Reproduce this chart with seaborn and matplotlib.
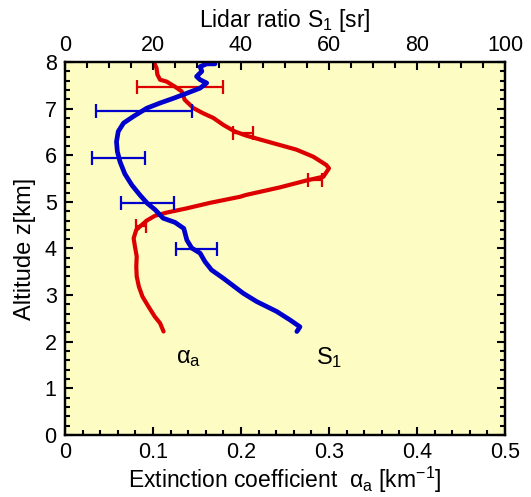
import matplotlib
matplotlib.use("Agg")
import matplotlib.pyplot as plt
from matplotlib.ticker import MultipleLocator
import seaborn as sns

# Extinction coefficient profile (bottom axis, km^-1)
ext_alt = [2.22, 2.40, 2.54, 2.75, 2.97, 3.18, 3.40, 3.61, 3.83, 4.04, 4.22, 4.40,
           4.47, 4.60, 4.70, 4.77, 4.86, 4.98, 5.11, 5.15, 5.31, 5.46, 5.54, 5.72,
           5.79, 5.97, 6.12, 6.22, 6.32, 6.42, 6.51, 6.65, 6.80, 6.90, 7.01, 7.19,
           7.37, 7.47, 7.58, 7.62, 7.73, 7.87, 7.95, 8.00]
ext_val = [0.112, 0.108, 0.102, 0.095, 0.088, 0.084, 0.0815, 0.081, 0.0815, 0.0795,
           0.078, 0.081, 0.085, 0.093, 0.102, 0.1155, 0.138, 0.165, 0.199, 0.206,
           0.244, 0.2746, 0.2936, 0.300, 0.297, 0.282, 0.263, 0.244, 0.225, 0.206,
           0.193, 0.180, 0.1686, 0.157, 0.146, 0.136, 0.1326, 0.125, 0.1155, 0.108,
           0.105, 0.104, 0.102, 0.102]
ext_err_alt = [7.47, 6.48, 5.47, 4.48]
ext_err_val = [0.1305, 0.2025, 0.284, 0.0865]
ext_err = [0.0485, 0.0115, 0.008, 0.0055]

# Lidar ratio profile (top axis, sr)
lr_alt = [2.22, 2.32, 2.47, 2.65, 2.86, 3.04, 3.36, 3.54, 3.72, 3.90, 4.01, 4.18,
          4.43, 4.56, 4.65, 4.83, 4.97, 5.15, 5.36, 5.60, 5.86, 6.08, 6.29, 6.51,
          6.69, 6.83, 7.01, 7.12, 7.22, 7.33, 7.44, 7.55, 7.62, 7.69, 7.80, 7.90,
          7.96, 7.96]
lr_val = [52.7, 53.4, 51.1, 48.1, 43.6, 40.5, 36.0, 33.3, 31.8, 30.7, 28.8, 27.7,
          27.0, 25.0, 22.3, 20.5, 18.7, 17.0, 15.2, 13.6, 12.5, 11.9, 11.7, 12.1,
          13.3, 15.5, 18.6, 21.6, 24.6, 27.7, 30.7, 32.2, 30.7, 29.9, 31.1, 30.7,
          32.2, 34.1]
lr_err_alt = [6.95, 5.95, 4.97, 3.98]
lr_err_val = [17.95, 12.15, 18.75, 29.85]
lr_err = [10.95, 6.05, 6.05, 4.65]

RED = "#DD0000"
BLUE = "#0000CC"
TICK_FS = 15.5
LABEL_FS = 16.5

sns.set_theme(style="ticks")
plt.rcParams["font.family"] = ["Liberation Sans", "DejaVu Sans"]
plt.rcParams["mathtext.fontset"] = "custom"
plt.rcParams["mathtext.rm"] = "Liberation Sans"
plt.rcParams["mathtext.it"] = "Liberation Sans"
plt.rcParams["mathtext.default"] = "regular"
for key in ("text.color", "axes.labelcolor", "xtick.color", "ytick.color",
            "xtick.labelcolor", "ytick.labelcolor"):
    plt.rcParams[key] = "black"

fig = plt.figure(figsize=(5.31, 4.97), dpi=100)
ax = fig.add_axes([65 / 531, 62 / 497, 440 / 531, 373 / 497])
ax.set_facecolor("#FCFCC3")

sns.lineplot(x=ext_val, y=ext_alt, sort=False, estimator=None, color=RED,
             linewidth=3.0, ax=ax)
ax.errorbar(ext_err_val, ext_err_alt, xerr=ext_err, fmt="none", ecolor=RED,
            elinewidth=1.6, capsize=5, capthick=1.6)

ax.set_xlim(0, 0.5)
ax.set_ylim(0, 8)
ax.xaxis.set_major_locator(MultipleLocator(0.1))
ax.xaxis.set_minor_locator(MultipleLocator(0.02))
ax.yaxis.set_major_locator(MultipleLocator(1))
ax.yaxis.set_minor_locator(MultipleLocator(0.2))
ax.set_xticks([0, 0.1, 0.2, 0.3, 0.4, 0.5], ["0", "0.1", "0.2", "0.3", "0.4", "0.5"])
ax.tick_params(which="both", direction="in", bottom=True, top=False,
               left=True, right=True, labelsize=TICK_FS, colors="black",
               width=1.5)
ax.tick_params(which="major", length=6)
ax.tick_params(which="minor", length=3.5)
ax.tick_params(axis="x", which="major", pad=5)
ax.tick_params(axis="y", which="major", pad=6)
ax.set_xlabel("Extinction coefficient  α$_a$ [km$^{-1}$]", fontsize=LABEL_FS,
              labelpad=1)
ax.set_ylabel("Altitude z[km]", fontsize=LABEL_FS + 0.5, labelpad=6)

ax2 = ax.twiny()
sns.lineplot(x=lr_val, y=lr_alt, sort=False, estimator=None, color=BLUE,
             linewidth=3.4, ax=ax2)
ax2.errorbar(lr_err_val, lr_err_alt, xerr=lr_err, fmt="none", ecolor=BLUE,
             elinewidth=1.6, capsize=5, capthick=1.6)
ax2.set_xlim(0, 100)
ax2.set_ylim(0, 8)
ax2.xaxis.set_major_locator(MultipleLocator(20))
ax2.xaxis.set_minor_locator(MultipleLocator(5))
ax2.tick_params(which="both", direction="in", top=True, bottom=False,
                labeltop=True, labelbottom=False, labelsize=TICK_FS,
                width=1.5, colors="black")
ax2.tick_params(which="major", length=6, pad=4)
ax2.tick_params(which="minor", length=4.5)
ax2.set_xlabel("Lidar ratio S$_1$ [sr]", fontsize=LABEL_FS, labelpad=6)

for a in (ax, ax2):
    for sp in a.spines.values():
        sp.set_linewidth(1.6)
        sp.set_color("black")

ax.text(0.14, 1.65, "α$_a$", fontsize=17, ha="center", va="center")
ax.text(0.30, 1.67, "S$_1$", fontsize=17, ha="center", va="center")

fig.savefig("out.png", dpi=100)
